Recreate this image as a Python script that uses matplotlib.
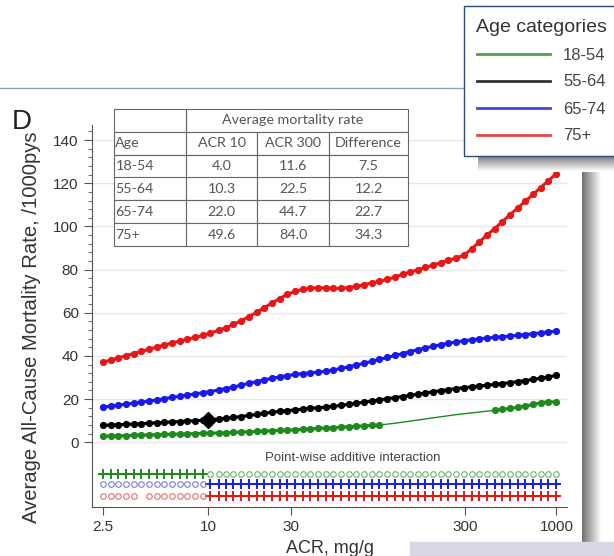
import numpy as np
import matplotlib.pyplot as plt
from matplotlib.ticker import FixedLocator, NullLocator, FixedFormatter
from matplotlib.lines import Line2D
from matplotlib.patches import Rectangle

plt.rcParams['font.family'] = ['Liberation Sans', 'DejaVu Sans']

# ACR grid (mg/g) of the model curves
acr = [2.5, 2.77, 3.06, 3.39, 3.75, 4.15, 4.59, 5.08, 5.63, 6.23,
       6.89, 7.63, 8.44, 9.35, 10.3, 11.5, 12.7, 14.0, 15.5, 17.2,
       19.0, 21.0, 23.3, 25.8, 28.5, 31.6, 35.0, 38.7, 42.8, 47.4,
       52.5, 58.1, 64.3, 71.1, 78.7, 87.1, 96.4, 107, 118, 131,
       145, 160, 177, 196, 217, 240, 266, 294, 326, 361,
       399, 442, 489, 541, 599, 663, 734, 812, 899, 1000]

ages = ["18-54", "55-64", "65-74", "75+"]

# average all-cause mortality rate per 1000 person-years
rate_18_54 = [2.8, 2.9, 3.0, 3.1, 3.2, 3.3, 3.4, 3.5, 3.6, 3.7,
              3.8, 3.9, 4.0, 4.1, 4.2, 4.3, 4.4, 4.6, 4.7, 4.9,
              5.0, 5.2, 5.3, 5.5, 5.6, 5.8, 6.0, 6.2, 6.4, 6.6,
              6.8, 7.0, 7.2, 7.4, 7.6, 7.8, 8.0, 8.4, 8.8, 9.3,
              9.8, 10.3, 10.8, 11.3, 11.8, 12.3, 12.8, 13.2, 13.6, 14.0,
              14.4, 14.8, 15.2, 15.7, 16.2, 16.8, 17.5, 18.3, 18.8, 18.6]
rate_55_64 = [7.8, 8.0, 8.1, 8.3, 8.4, 8.6, 8.8, 9.0, 9.2, 9.4,
              9.6, 9.8, 10.0, 10.2, 10.4, 10.8, 11.1, 11.5, 11.9, 12.4,
              12.9, 13.4, 13.9, 14.3, 14.7, 15.0, 15.4, 15.7, 16.0, 16.3,
              16.7, 17.1, 17.6, 18.1, 18.6, 19.1, 19.6, 20.2, 20.7, 21.2,
              21.7, 22.3, 22.8, 23.4, 23.9, 24.4, 24.9, 25.3, 25.7, 26.1,
              26.4, 26.8, 27.2, 27.6, 28.1, 28.6, 29.1, 29.7, 30.3, 31.0]
rate_65_74 = [16.3, 16.8, 17.2, 17.7, 18.1, 18.6, 19.1, 19.6, 20.2, 20.8,
              21.3, 21.9, 22.4, 23.0, 23.5, 24.2, 24.9, 25.6, 26.4, 27.3,
              28.1, 28.9, 29.6, 30.3, 30.9, 31.4, 31.8, 32.2, 32.5, 32.9,
              33.5, 34.2, 35.0, 35.8, 36.6, 37.5, 38.4, 39.3, 40.2, 41.1,
              42.0, 42.9, 43.7, 44.5, 45.2, 45.9, 46.5, 47.0, 47.5, 47.9,
              48.3, 48.6, 48.9, 49.2, 49.5, 49.9, 50.3, 50.7, 51.1, 51.5]
rate_75 = [37.1, 38.1, 39.1, 40.1, 41.1, 42.1, 43.1, 44.1, 45.1, 46.0,
           46.9, 47.8, 48.6, 49.5, 50.6, 51.8, 53.1, 54.6, 56.3, 58.2,
           60.2, 62.3, 64.5, 66.6, 68.5, 69.9, 70.8, 71.4, 71.6, 71.5,
           71.3, 71.3, 71.7, 72.3, 73.0, 73.8, 74.6, 75.5, 76.5, 77.8,
           78.8, 79.9, 81.0, 82.1, 83.2, 84.3, 85.4, 86.6, 89.6, 92.8,
           96.0, 99.0, 102.2, 105.4, 108.5, 111.7, 114.8, 118.0, 121.2, 124.5]
curves = [rate_18_54, rate_55_64, rate_65_74, rate_75]

# ACR ranges where the 18-54 curve carries markers
green_marker_ranges = [(2.5, 100), (440, 1000)]

# point-wise additive interaction: '+' significant, 'o' not, ' ' missing
interaction_ages = ["18-54", "65-74", "75+"]
interaction_flags = ["+" * 14 + "o" * 46,
                     "o" * 14 + "+" * 46,
                     "o" * 5 + " " + "o" * 8 + "+" * 46]

# inset table
table_header = ["Age", "ACR 10", "ACR 300", "Difference"]
rate_acr10 = [4.0, 10.3, 22.0, 49.6]
rate_acr300 = [11.6, 22.5, 44.7, 84.0]
rate_diff = [7.5, 12.2, 22.7, 34.3]
ref_acr = 10

x_ticks = [2.5, 10, 30, 300, 1000]
x_labels = ["2.5", "10", "30", "300", "1000"]

line_colors = ["#1e8a1e", "#000000", "#1a1ae8", "#e81616"]
legend_colors = ["#4f9f4f", "#333333", "#4646d8", "#e04848"]
row_colors = {"18-54": ("#1e8a1e", "#6ab46a"),
              "65-74": ("#1a1ae8", "#7a7ade"),
              "75+": ("#e81616", "#e27070")}
row_y = [-14.5, -19.4, -24.9]

W, H = 614, 556
fig = plt.figure(figsize=(W / 100, H / 100), dpi=100)

# main axes: left 92px, right 567px, top 125px, bottom 507px
ax = fig.add_axes([92 / W, 1 - 507 / H, (567 - 92) / W, (507 - 125) / H])
ax.patch.set_alpha(0)
ax.set_xscale('log')
ax.set_xlim(2.16, 1150)
ax.set_ylim(-30, 147)

for ys, col, age in zip(curves, line_colors, ages):
    if age == "18-54":
        marked = np.zeros(len(acr), bool)
        for lo, hi in green_marker_ranges:
            marked |= (np.array(acr) >= lo) & (np.array(acr) <= hi)
        ax.plot(acr, ys, color=col, lw=1.0, zorder=3)
        ym = np.where(marked, ys, np.nan)
        ax.plot(acr, ym, color=col, lw=2.2, marker='o', ms=5.2, mew=0, zorder=3)
    else:
        ax.plot(acr, ys, color=col, lw=2.2, marker='o', ms=5.2, mew=0, zorder=3)

ax.plot(ref_acr, rate_acr10[1], marker='D', ms=8, color='black', zorder=4)

# interaction rows
for age, flags, y in zip(interaction_ages, interaction_flags, row_y):
    strong, light = row_colors[age]
    xp = [a for a, f in zip(acr, flags) if f == '+']
    xo = [a for a, f in zip(acr, flags) if f == 'o']
    ax.plot(xp, [y] * len(xp), color=strong, lw=1.2, marker='+', ms=7,
            mew=1.4, zorder=3)
    ax.plot(xo, [y] * len(xo), ls='none', marker='o', ms=4, mfc='none',
            mec=light, mew=0.8, zorder=3)
ax.text(68, -7.4, "Point-wise additive interaction", ha='center', va='center',
        fontsize=9.5, color='#444444')

ax.xaxis.set_major_locator(FixedLocator(x_ticks))
ax.xaxis.set_major_formatter(FixedFormatter(x_labels))
ax.xaxis.set_minor_locator(NullLocator())
ax.yaxis.set_major_locator(FixedLocator(np.arange(0, 141, 20)))
ax.yaxis.set_minor_locator(FixedLocator(np.arange(0, 148, 4)))
ax.grid(axis='y', which='major', color='#e6e6e6', lw=1)
ax.set_axisbelow(True)
for s in ['top', 'right']:
    ax.spines[s].set_visible(False)
for s in ['left', 'bottom']:
    ax.spines[s].set_color('#555555')
ax.tick_params(which='major', length=6, color='#555555', labelsize=11,
               labelcolor='#333333')
ax.tick_params(which='minor', length=3, color='#555555')
ax.set_xlabel("ACR, mg/g", fontsize=13, color='#333333', labelpad=4)
ax.set_ylabel("Average All-Cause Mortality Rate, /1000pys", fontsize=14.6,
              color='#333333')
ax.yaxis.set_label_coords(-0.108, 0.471)

# inset table
cells = [["", "", "Average mortality rate", ""], table_header]
for a, r1, r2, d in zip(ages, rate_acr10, rate_acr300, rate_diff):
    cells.append([a, f"{r1:.1f}", f"{r2:.1f}", f"{d:.1f}"])
tx0, tx1, ty0, ty1 = 114, 408, 109, 246
tab = ax.table(cellText=cells, cellLoc='center',
               colWidths=[0.245, 0.2415, 0.245, 0.2685],
               bbox=[(tx0 - 92) / 475, (507 - ty1) / 382,
                     (tx1 - tx0) / 475, (ty1 - ty0) / 382])
tab.auto_set_font_size(False)
tab.set_zorder(5)
for (r, c), cell in tab.get_celld().items():
    cell.set_edgecolor('#666666')
    cell.set_linewidth(0.8)
    cell.set_facecolor('white')
    cell.set_clip_on(False)
    t = cell.get_text()
    t.set_fontsize(10.3)
    t.set_fontfamily(['Lato', 'DejaVu Sans'])
    t.set_color('#555555')
    t.set_clip_on(False)
    if c == 0 and r > 0:
        t.set_horizontalalignment('left')
        cell.PAD = 0.02
    if r == 0 and c > 0:
        cell.visible_edges = {1: 'BTL', 2: 'BT', 3: 'BTR'}[c]
        cell.set_facecolor('none')

# decorations in figure pixel space
deco = fig.add_axes([0, 0, 1, 1], zorder=1)
deco.set_autoscale_on(False)
deco.axis('off')
deco.plot([0, 464], [88, 88], color='#8fa3c6', lw=1)
deco.imshow(np.linspace(0.45, 1.0, 20)[None, :], cmap='gray', vmin=0, vmax=1,
            extent=[582, 602, 542, 150], aspect='auto')
deco.imshow(np.linspace(0.5, 1.0, 12)[:, None], cmap='gray', vmin=0, vmax=1,
            extent=[478, W, 172, 156], aspect='auto')
deco.add_patch(Rectangle((410, 542), W - 410, H - 542, color='#d9d7e5'))
deco.set_xlim(0, W)
deco.set_ylim(H, 0)

fig.text(12 / W, 1 - 122 / H, "D", fontsize=20, va='center', ha='left',
         color='#222222')

handles = [Line2D([], [], color=c, lw=2) for c in legend_colors]
leg = fig.legend(handles, ages, loc='upper left',
                 bbox_to_anchor=(464 / W, 1 - 6 / H), borderaxespad=0,
                 title="Age categories", alignment='left',
                 prop={'family': ['Liberation Sans Narrow', 'Liberation Sans'],
                       'size': 12},
                 title_fontproperties={'family': ['Liberation Sans Narrow',
                                                  'Liberation Sans'],
                                       'size': 14},
                 handlelength=4.4, handletextpad=0.8, labelspacing=0.72,
                 frameon=True, fancybox=False, framealpha=1,
                 edgecolor='#2d4b7a', borderpad=0.75)
leg.get_frame().set_linewidth(1)
for t in leg.get_texts():
    t.set_color('#444444')
leg.get_title().set_color('#333333')

fig.savefig('out.png', dpi=100)
